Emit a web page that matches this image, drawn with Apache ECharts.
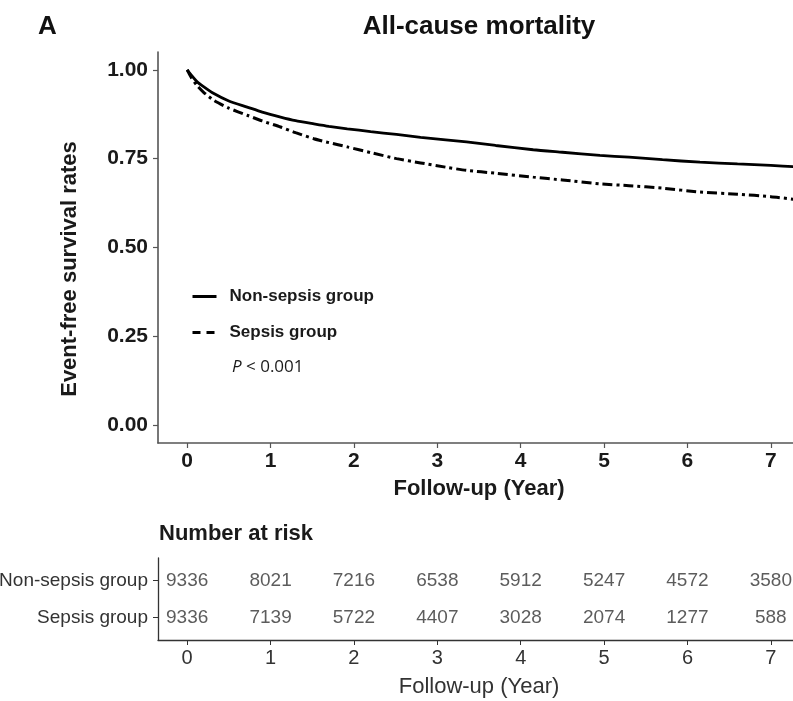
<!DOCTYPE html>
<html><head><meta charset="utf-8">
<script src="https://cdn.jsdelivr.net/npm/echarts@6/dist/echarts.min.js"></script>
<style>html,body{margin:0;padding:0;background:#fff}#c{width:793px;height:701px}</style>
</head><body><div id="c"></div>
<script>
// ---- data ----
const times         = [0, 0.05, 0.12, 0.2, 0.32, 0.5, 0.72, 0.9, 1.12, 1.3, 1.52, 1.7, 1.92, 2.2, 2.51, 2.8, 3.1, 3.35, 3.7, 4.15, 4.5, 4.95, 5.3, 5.7, 6.15, 6.6, 7.0, 7.3];
const nonSepsisSurv = [1.0, 0.985, 0.966, 0.952, 0.933, 0.912, 0.895, 0.881, 0.867, 0.857, 0.848, 0.841, 0.834, 0.826, 0.818, 0.810, 0.803, 0.797, 0.787, 0.775, 0.768, 0.759, 0.754, 0.747, 0.740, 0.735, 0.731, 0.727];
const sepsisSurv    = [1.0, 0.978, 0.955, 0.936, 0.914, 0.892, 0.872, 0.856, 0.839, 0.823, 0.806, 0.795, 0.783, 0.767, 0.750, 0.738, 0.726, 0.717, 0.709, 0.698, 0.690, 0.679, 0.674, 0.667, 0.656, 0.650, 0.643, 0.635];
const seriesNames   = ['Non-sepsis group', 'Sepsis group'];
const survTicks     = [0, 0.25, 0.5, 0.75, 1];
const yearTicks     = [0, 1, 2, 3, 4, 5, 6, 7];
const riskGroups    = ['Sepsis group', 'Non-sepsis group'];
const riskYears     = [0, 1, 2, 3, 4, 5, 6, 7];
const nonSepsisRisk = [9336, 8021, 7216, 6538, 5912, 5247, 4572, 3580];
const sepsisRisk    = [9336, 7139, 5722, 4407, 3028, 2074, 1277, 588];

const FF = '"Liberation Sans", Arial, sans-serif';
const chart = echarts.init(document.getElementById('c'), null, {renderer: 'canvas'});

const riskData = (arr, g) => riskYears.map((y, i) => [y, riskGroups.indexOf(g) + 1, arr[i]]);

chart.setOption({
  animation: false,
  backgroundColor: '#fff',
  grid: [
    {left: 158, top: 52, right: -7, bottom: 258, outerBoundsMode: 'none', containLabel: false},
    {left: 158, top: 558, right: -7, bottom: 61, outerBoundsMode: 'none', containLabel: false}
  ],
  xAxis: [
    {
      type: 'value', gridIndex: 0, min: -0.35, max: 7.35,
      axisLine: {onZero: false, lineStyle: {color: '#555', width: 1.6}},
      axisTick: {show: true, length: 5, customValues: yearTicks, lineStyle: {color: '#555', width: 1.2}},
      axisLabel: {customValues: yearTicks, fontSize: 21, fontWeight: 'bold', color: '#1a1a1a', margin: 8, fontFamily: FF},
      splitLine: {show: false},
      name: 'Follow-up (Year)', nameLocation: 'middle', nameGap: 35,
      nameTextStyle: {fontSize: 22, fontWeight: 'bold', color: '#1a1a1a', fontFamily: FF}
    },
    {
      type: 'value', gridIndex: 1, min: -0.35, max: 7.35,
      axisLine: {onZero: false, lineStyle: {color: '#333', width: 1.3}},
      axisTick: {show: true, length: 5, customValues: yearTicks, lineStyle: {color: '#333', width: 1}},
      axisLabel: {customValues: yearTicks, fontSize: 20, color: '#333', margin: 8, fontFamily: FF},
      splitLine: {show: false},
      name: 'Follow-up (Year)', nameLocation: 'middle', nameGap: 36,
      nameTextStyle: {fontSize: 22, color: '#333', fontFamily: FF}
    }
  ],
  yAxis: [
    {
      type: 'value', gridIndex: 0, min: -0.05, max: 1.05,
      axisLine: {show: true, onZero: false, lineStyle: {color: '#555', width: 1.6}},
      axisTick: {show: true, length: 5, customValues: survTicks, lineStyle: {color: '#555', width: 1.2}},
      axisLabel: {customValues: survTicks, formatter: v => Number(v).toFixed(2), fontSize: 21, fontWeight: 'bold', color: '#1a1a1a', margin: 10, fontFamily: FF},
      splitLine: {show: false}
    },
    {
      type: 'value', gridIndex: 1, min: 0.4, max: 2.6,
      axisLine: {show: true, onZero: false, lineStyle: {color: '#333', width: 1.3}},
      axisTick: {show: true, length: 5, customValues: [1, 2], lineStyle: {color: '#333', width: 1}},
      axisLabel: {customValues: [1, 2], formatter: v => riskGroups[Math.round(v) - 1] || '', fontSize: 19, color: '#333', margin: 10, fontFamily: FF},
      splitLine: {show: false}
    }
  ],
  legend: {
    data: [
      {name: seriesNames[0]},
      {name: seriesNames[1], lineStyle: {type: [8, 6], width: 3}}
    ],
    orient: 'vertical', left: 191, top: 288, padding: 0,
    itemWidth: 24, itemHeight: 14, itemGap: 19,
    itemStyle: {opacity: 0},
    lineStyle: {width: 3},
    textStyle: {fontSize: 17, fontWeight: 'bold', color: '#1a1a1a', fontFamily: FF, padding: [0, 0, 0, 8]}
  },
  series: [
    {
      name: seriesNames[0], type: 'line', xAxisIndex: 0, yAxisIndex: 0,
      data: times.map((t, i) => [t, nonSepsisSurv[i]]),
      symbol: 'none', smooth: 0.2, silent: true,
      lineStyle: {color: '#000', width: 2.8}, itemStyle: {color: '#000'}
    },
    {
      name: seriesNames[1], type: 'line', xAxisIndex: 0, yAxisIndex: 0,
      data: times.map((t, i) => [t, sepsisSurv[i]]),
      symbol: 'none', smooth: 0.2, silent: true,
      lineStyle: {color: '#000', width: 3, type: [10, 4, 3, 4]}, itemStyle: {color: '#000'}
    },
    {
      type: 'scatter', xAxisIndex: 1, yAxisIndex: 1, silent: true,
      data: riskData(nonSepsisRisk, 'Non-sepsis group'),
      symbolSize: 1, itemStyle: {color: 'rgba(0,0,0,0)'},
      label: {show: true, position: 'inside', formatter: p => p.value[2], fontSize: 19, color: '#333', fontFamily: FF}
    },
    {
      type: 'scatter', xAxisIndex: 1, yAxisIndex: 1, silent: true,
      data: riskData(sepsisRisk, 'Sepsis group'),
      symbolSize: 1, itemStyle: {color: 'rgba(0,0,0,0)'},
      label: {show: true, position: 'inside', formatter: p => p.value[2], fontSize: 19, color: '#333', fontFamily: FF}
    }
  ],
  graphic: [
    {type: 'text', x: 38, y: 27, style: {text: 'A', font: 'bold 26px ' + FF, fill: '#111', align: 'left', verticalAlign: 'middle'}},
    {type: 'text', x: 479, y: 27, style: {text: 'All-cause mortality', font: 'bold 26px ' + FF, fill: '#111', align: 'center', verticalAlign: 'middle'}},
    {type: 'text', x: 70, y: 269, rotation: Math.PI / 2, style: {text: 'Event-free survival rates', font: 'bold 22px ' + FF, fill: '#1a1a1a', align: 'center', verticalAlign: 'middle'}},
    {type: 'text', x: 232, y: 367, style: {text: '{i|P} < 0.001', font: '17px "Open Sans", sans-serif', fill: '#1a1a1a', align: 'left', verticalAlign: 'middle',
      rich: {i: {fontStyle: 'italic', fontSize: 17, fontFamily: '"Open Sans", sans-serif', fill: '#1a1a1a'}}}},
    {type: 'text', x: 159, y: 534, style: {text: 'Number at risk', font: 'bold 22px ' + FF, fill: '#1a1a1a', align: 'left', verticalAlign: 'middle'}}
  ]
});
</script></body></html>
